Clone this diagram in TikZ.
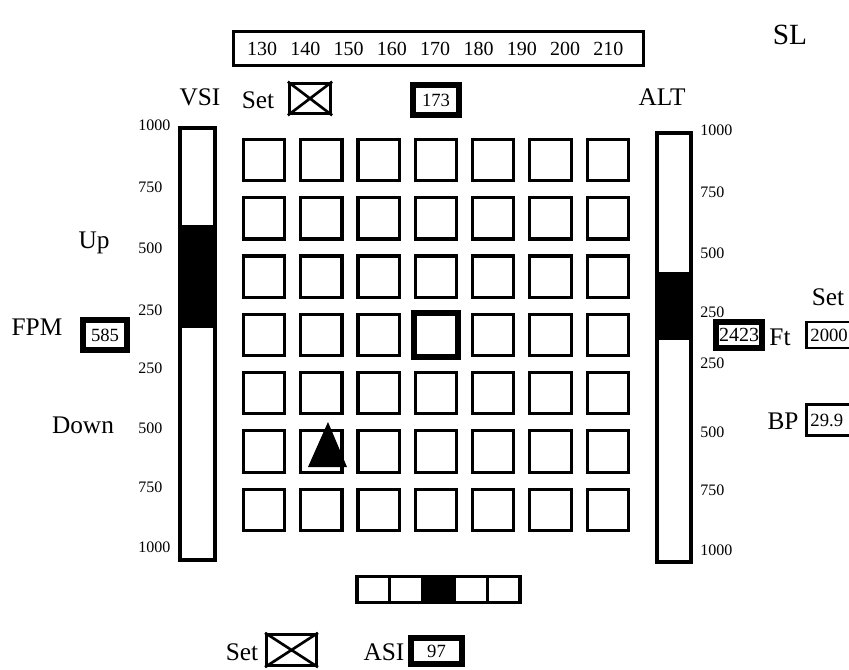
\documentclass[tikz,border=0pt]{standalone}
\usepackage{fontspec}
\setmainfont{Liberation Serif}
\usetikzlibrary{positioning}
\definecolor{ink}  {HTML}{000000}
\definecolor{paper}{HTML}{FFFFFF}
\tikzset{
  cell/.style={
    rectangle, draw=ink, line width=2.4pt, fill=paper,
    minimum size=31pt, inner sep=0pt
  },
  cellhot/.style={cell, line width=4.2pt},
  thinbox/.style={
    rectangle, draw=ink, line width=2.2pt, fill=paper, text=ink,
    inner sep=0pt, font=\fontsize{14}{14}\selectfont
  },
  thickbox/.style={thinbox, line width=4.4pt},
  cutbox/.style={thinbox, anchor=west, inner xsep=3pt, text width=40pt, align=left,
    font=\fontsize{14}{14}\selectfont},
  tag/.style={font=\fontsize{19}{19}\selectfont, inner sep=0pt, text=ink},
  ticklabel/.style={font=\fontsize{12}{12}\selectfont, inner sep=0pt, anchor=west, text=ink},
  scalenum/.style={font=\fontsize{15}{15}\selectfont, inner sep=0pt, text=ink},
  barline/.style={draw=ink, line width=2.4pt},
  asicell/.style={cell, minimum width=24.4pt, minimum height=20pt}
}

\begin{document}
\begin{tikzpicture}[x=0.75pt, y=-0.75pt]
    \useasboundingbox (0,0) rectangle (849,670);
    \clip (0,0) rectangle (849,670);

    % speed scale and header
    \node[thinbox, minimum width=307pt, minimum height=25.5pt] (scale) at (438.5,48.5) {};
    \foreach \v [count=\k from 0] in {130,140,...,210}
      \node[scalenum] (sp\v) at ({262+43.3*\k},49) {\v};
    \node[tag, font=\fontsize{22}{22}\selectfont] (sl) at (790,35) {SL};
    \node[tag] (vsi) at (200,97) {VSI};
    \node[tag] (alt) at (662,97) {ALT};
    \node[tag] (setspd) at (258,100) {Set};
    \node[thinbox, minimum width=31pt, minimum height=23pt] (setx) at (310,98.5) {};
    \draw[ink, line width=2pt] (setx.north west) -- (setx.south east)
                               (setx.south west) -- (setx.north east);
    \node[thickbox, minimum width=35pt, minimum height=22pt] (hdg) at (436,100) {173};

    % vertical speed bar
    \draw[barline] (180,128) rectangle (215,560);
    \fill[ink] (180,225) rectangle (215,328);
    \foreach \v/\y in {1000/125,750/187,500/248,250/310,250/368,500/428,750/487,1000/547}
      \node[ticklabel] at (138,\y) {\v};
    \node[tag] (up) at (94,243) {Up};
    \node[tag] (fpm) at (37,327) {FPM};
    \node[thickbox, minimum width=33pt, minimum height=22pt] (vs) at (105,335) {585};
    \node[tag] (down) at (83,425) {Down};

    % altitude bar
    \draw[barline] (657,133) rectangle (691,562);
    \fill[ink] (657,272) rectangle (691,340);
    \foreach \v/\y in {1000/130,750/192,500/253,250/312,250/363,500/432,750/490,1000/550}
      \node[ticklabel] at (700,\y) {\v};
    \node[thickbox, minimum width=35pt, minimum height=19pt, font=\fontsize{15}{15}\selectfont] (altv) at (739,335) {2423};
    \node[tag] (ft) at (780,337) {Ft};
    \node[tag] (setalt) at (828,297) {Set};
    \node[cutbox, minimum height=19.5pt] (altset) at (805,335) {2000};
    \node[tag] (bp) at (783,421) {BP};
    \node[cutbox, minimum height=23pt] (baro) at (805,420) {29.9};

    % grid
    \foreach \r in {0,...,6}
      \foreach \c in {0,...,6}
        \node[cell] (sq\r\c) at ({264+57.3*\c},{160+58.3*\r}) {};
    \node[cellhot, minimum size=33pt] (hot) at (sq33.center) {};
    \fill[ink] (328,422) -- (347,467) -- (308,467) -- cycle;

    % airspeed bar
    \foreach \k in {0,...,4}
      \node[asicell] (asi\k) at ({373.3+32.6*\k},589.5) {};
    \node[asicell, fill=ink] (asimid) at (asi2.center) {};
    \node[tag] (setasi) at (242,652) {Set};
    \node[thinbox, minimum width=37.5pt, minimum height=23.5pt] (asix) at (291.5,650) {};
    \draw[ink, line width=2pt] (asix.north west) -- (asix.south east)
                               (asix.south west) -- (asix.north east);
    \node[tag] (asi) at (384,652) {ASI};
    \node[thickbox, minimum width=38pt, minimum height=20pt] (asiv) at (436.5,651) {97};
  \end{tikzpicture}
\end{document}
